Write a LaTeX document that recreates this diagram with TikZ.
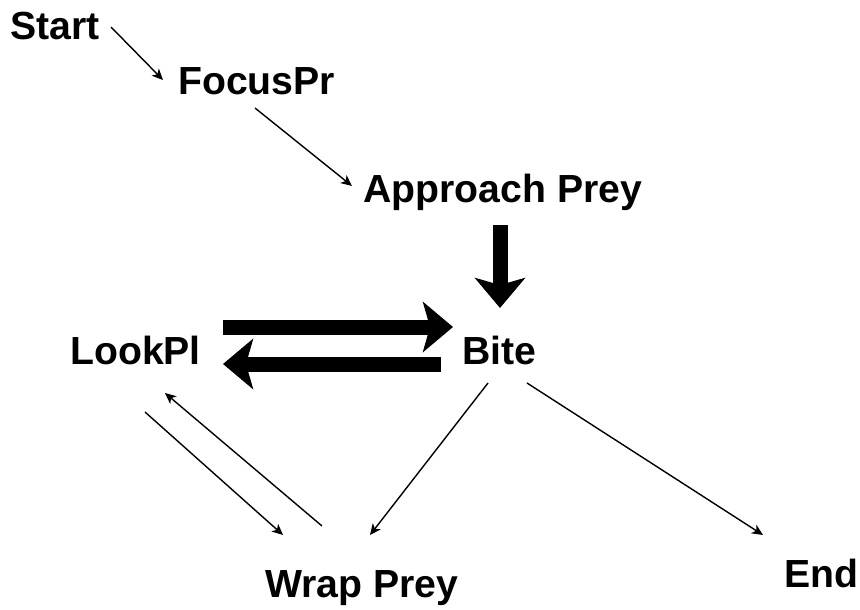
\documentclass[tikz,border=0pt]{standalone}
\usepackage{fontspec}
\setmainfont{Liberation Sans}
\usetikzlibrary{arrows.meta,calc}
\begin{document}
\begin{tikzpicture}[x=1pt,y=-1pt,
  state/.style={inner sep=0pt,anchor=base west,font=\fontsize{39.2}{41}\selectfont\bfseries},
  thin/.style={line width=1.4pt,-{Stealth[length=11pt,width=10pt,inset=3pt]}},
  thick/.style={line width=15pt,-{Stealth[length=30pt,width=50pt,inset=7pt]}}]
\useasboundingbox (0,0) rectangle (860,610);
% states
\node[state] (st) at (10,40)  {Start};
\node[state] (fp) at (178,95) {FocusPr};
\node[state] (ap) at (363,202) {Approach Prey};
\node[state] (lp) at (70,364) {LookPl};
\node[state] (bi) at (462,364) {Bite};
\node[state] (wp) at (265,597) {Wrap Prey};
\node[state] (en) at (784,587) {End};
% thin transitions
\draw[thin] ($(st.base west)+(101,-13)$) -- ($(fp.base west)+(-15,-15)$);
\draw[thin] ($(fp.base west)+(77,13)$) -- ($(ap.base west)+(-11,-16)$);
\draw[thin] ($(lp.base west)+(75,48)$) -- ($(wp.base west)+(18,-62)$);
\draw[thin] ($(wp.base west)+(57,-71)$) -- ($(lp.base west)+(95,29)$);
\draw[thin] ($(bi.base west)+(26,19)$) -- ($(wp.base west)+(105,-62)$);
\draw[thin] ($(bi.base west)+(65,19)$) -- ($(en.base west)+(-21,-52)$);
% heavy transitions
\draw[thick] ($(ap.base west)+(137,23)$) -- ($(bi.base west)+(38,-56)$);
\draw[thick] ($(lp.base west)+(153,-37)$) -- ($(bi.base west)+(-9,-37)$);
\draw[thick] ($(bi.base west)+(-21,0)$) -- ($(lp.base west)+(153,0)$);
\end{tikzpicture}
\end{document}
